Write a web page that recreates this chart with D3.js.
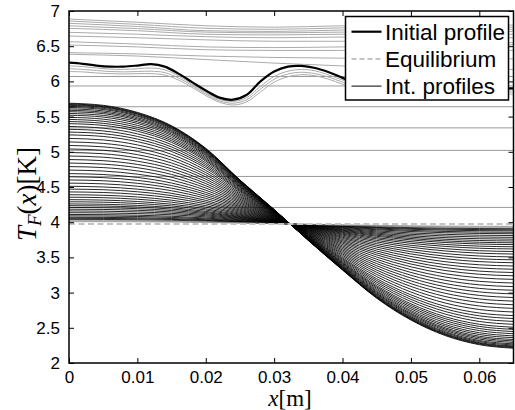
<!DOCTYPE html>
<html><head><meta charset="utf-8">
<script src="https://cdn.jsdelivr.net/npm/d3@7"></script>
<style>body{margin:0;background:#fff} svg{display:block}</style>
</head><body>
<svg id="c" width="515" height="410"></svg>
<script>
// ---------- data ----------
const xTicks = [0, 0.01, 0.02, 0.03, 0.04, 0.05, 0.06];
const xTickLabels = ["0", "0.01", "0.02", "0.03", "0.04", "0.05", "0.06"];
const yTicks = [2, 2.5, 3, 3.5, 4, 4.5, 5, 5.5, 6, 6.5, 7];
const yTickLabels = ["2", "2.5", "3", "3.5", "4", "4.5", "5", "5.5", "6", "6.5", "7"];
const equilibrium = 3.975;

const profileX = [0, 0.002, 0.004, 0.006, 0.008, 0.010, 0.012, 0.014, 0.016, 0.018, 0.020, 0.022, 0.024, 0.026, 0.028, 0.030, 0.032, 0.034, 0.036, 0.038, 0.040, 0.042, 0.045, 0.05, 0.055, 0.06, 0.065];
const initialProfile = [6.266, 6.25, 6.225, 6.21, 6.21, 6.225, 6.245, 6.21, 6.11, 5.99, 5.87, 5.77, 5.74, 5.81, 6.00, 6.14, 6.21, 6.22, 6.19, 6.13, 6.05, 5.98, 5.92, 5.90, 5.91, 5.90, 5.90];
const follower1 = [6.22, 6.21, 6.19, 6.175, 6.17, 6.18, 6.19, 6.165, 6.08, 5.96, 5.84, 5.745, 5.715, 5.77, 5.93, 6.07, 6.145, 6.17, 6.15, 6.09, 6.02, 5.96, 5.90, 5.87, 5.88, 5.88, 5.88];
const follower2 = [6.18, 6.17, 6.155, 6.14, 6.135, 6.14, 6.145, 6.125, 6.05, 5.94, 5.82, 5.725, 5.69, 5.74, 5.89, 6.03, 6.105, 6.13, 6.11, 6.06, 5.99, 5.93, 5.87, 5.84, 5.85, 5.85, 5.85];
const follower3 = [6.14, 6.135, 6.12, 6.11, 6.105, 6.11, 6.11, 6.09, 6.02, 5.915, 5.80, 5.705, 5.665, 5.71, 5.85, 5.99, 6.065, 6.095, 6.08, 6.03, 5.96, 5.90, 5.84, 5.81, 5.82, 5.82, 5.82];

const upperX = [0, 0.01, 0.02, 0.03, 0.04, 0.05, 0.065];
const upperProfiles = [
  [6.886, 6.84, 6.79, 6.77, 6.79, 6.80, 6.80],
  [6.858, 6.81, 6.755, 6.74, 6.76, 6.77, 6.77],
  [6.825, 6.78, 6.72, 6.71, 6.73, 6.74, 6.74],
  [6.79, 6.75, 6.70, 6.69, 6.70, 6.71, 6.71],
  [6.754, 6.72, 6.67, 6.66, 6.67, 6.67, 6.67],
  [6.697, 6.67, 6.635, 6.62, 6.63, 6.63, 6.62],
  [6.645, 6.62, 6.59, 6.57, 6.57, 6.56, 6.55],
  [6.564, 6.53, 6.49, 6.48, 6.49, 6.50, 6.52],
  [6.517, 6.49, 6.45, 6.44, 6.44, 6.44, 6.44],
  [6.408, 6.39, 6.36, 6.34, 6.33, 6.32, 6.32],
  [6.385, 6.36, 6.31, 6.26, 6.22, 6.18, 6.17]
];
const flatLevels = [6.07, 5.935, 5.64, 5.34, 5.02, 4.65, 4.21];

const fanX = [0, 0.005, 0.01, 0.015, 0.02, 0.025, 0.03, 0.035, 0.04, 0.045, 0.05, 0.055, 0.06, 0.065];
const fanEnvelope = [5.69, 5.66, 5.56, 5.37, 5.05, 4.60, 4.18, 3.74, 3.32, 2.92, 2.61, 2.39, 2.26, 2.21];
const fanStart = [5.69, 5.68, 5.67, 5.66, 5.645, 5.63, 5.61, 5.59, 5.57, 5.545, 5.52, 5.49, 5.46, 5.43, 5.40, 5.36, 5.32, 5.28, 5.24, 5.19, 5.14, 5.09, 5.04, 4.99, 4.94, 4.89, 4.84, 4.79, 4.74, 4.69, 4.645, 4.60, 4.555, 4.51, 4.47, 4.43, 4.39, 4.355, 4.32, 4.29, 4.26, 4.235, 4.21, 4.185, 4.16, 4.135, 4.11, 4.09, 4.07, 4.055, 4.04];
const fanTailStart = [4.028, 4.017, 4.007];

// ---------- layout ----------
const L = 69, R = 513.5, T = 11, B = 363;
const x = d3.scaleLinear().domain([0, 0.065]).range([L, R]);
const y = d3.scaleLinear().domain([2, 7]).range([B, T]);
const svg = d3.select("#c");

svg.append("clipPath").attr("id", "pc").append("rect")
  .attr("x", L).attr("y", T).attr("width", R - L).attr("height", B - T);
const g = svg.append("g").attr("clip-path", "url(#pc)");

const lineFrom = (xs, curve) => d3.line().x((d, i) => x(xs[i])).y(d => y(d)).curve(curve);

// upper grey profiles
const upLine = lineFrom(upperX, d3.curveMonotoneX);
g.selectAll(".up").data(upperProfiles).join("path")
  .attr("d", d => upLine(d)).attr("fill", "none").attr("stroke", "#aaa").attr("stroke-width", 1);

// flat profiles
g.selectAll(".flat").data(flatLevels).join("line")
  .attr("x1", L).attr("x2", R).attr("y1", d => y(d)).attr("y2", d => y(d))
  .attr("stroke", "#999").attr("stroke-width", 1);

// followers
const profLine = lineFrom(profileX, d3.curveCatmullRom.alpha(0.5));
g.selectAll(".fol").data([follower1, follower2, follower3]).join("path")
  .attr("d", d => profLine(d)).attr("fill", "none").attr("stroke", "#aaa").attr("stroke-width", 1);

// fan curves
const fanLine = lineFrom(fanX, d3.curveMonotoneX);
const e0 = fanEnvelope[0] - equilibrium;
const scaleCurve = s => fanEnvelope.map(v => equilibrium + (s - equilibrium) / e0 * (v - equilibrium));
g.selectAll(".fan").data(fanStart.map(scaleCurve)).join("path")
  .attr("d", d => fanLine(d)).attr("fill", "none").attr("stroke", "#000").attr("stroke-width", 0.85);
g.selectAll(".fantail").data(fanTailStart.map(scaleCurve)).join("path")
  .attr("d", d => fanLine(d)).attr("fill", "none").attr("stroke", "#777").attr("stroke-width", 0.6);

// equilibrium
g.append("line").attr("x1", L).attr("x2", R).attr("y1", y(equilibrium)).attr("y2", y(equilibrium))
  .attr("stroke", "#c4c4c4").attr("stroke-width", 2).attr("stroke-dasharray", "6,3.5");

// initial profile
g.append("path").attr("d", profLine(initialProfile)).attr("fill", "none")
  .attr("stroke", "#000").attr("stroke-width", 2.2);

// ---------- axes ----------
const font = "'Liberation Sans', Arial, sans-serif";
const ax = svg.append("g");
const xb = d3.axisBottom(x).tickValues(xTicks).tickFormat((d, i) => xTickLabels[i]).tickSizeInner(-5).tickSizeOuter(0).tickPadding(8);
const xt = d3.axisTop(x).tickValues(xTicks).tickFormat("").tickSizeInner(-5).tickSizeOuter(0);
const yl = d3.axisLeft(y).tickValues(yTicks).tickFormat((d, i) => yTickLabels[i]).tickSizeInner(-5).tickSizeOuter(0).tickPadding(9);
const yr = d3.axisRight(y).tickValues(yTicks).tickFormat("").tickSizeInner(-5).tickSizeOuter(0);
function styleAxis(sel) {
  sel.selectAll(".domain").remove();
  sel.selectAll(".tick line").attr("stroke", "#000").attr("stroke-width", 1);
  sel.selectAll("text").attr("fill", "#000").style("font-family", font).style("font-size", "17px");
}
ax.append("g").attr("transform", `translate(0,${B})`).call(xb).call(styleAxis);
ax.append("g").attr("transform", `translate(0,${T})`).call(xt).call(styleAxis);
ax.append("g").attr("transform", `translate(${L},0)`).call(yl).call(styleAxis);
ax.append("g").attr("transform", `translate(${R},0)`).call(yr).call(styleAxis);
ax.append("rect").attr("x", L).attr("y", T).attr("width", R - L).attr("height", B - T)
  .attr("fill", "none").attr("stroke", "#000").attr("stroke-width", 1.5);

// axis labels
const serif = "'Liberation Serif', 'Times New Roman', serif";
const xl = svg.append("text").attr("x", 290).attr("y", 406).attr("text-anchor", "middle")
  .style("font-family", serif).style("font-size", "23px");
xl.append("tspan").style("font-style", "italic").text("x");
xl.append("tspan").text("[m]");

const ylab = svg.append("text").attr("transform", `translate(36,${(T + B) / 2 + 7}) rotate(-90)`)
  .attr("text-anchor", "middle").style("font-family", serif).style("font-size", "27px");
ylab.append("tspan").style("font-style", "italic").text("T");
ylab.append("tspan").style("font-style", "italic").style("font-size", "19px").attr("dy", 5).text("F");
ylab.append("tspan").attr("dy", -5).text("(");
ylab.append("tspan").style("font-style", "italic").text("x");
ylab.append("tspan").text(")[K]");

// ---------- legend ----------
const lg = svg.append("g");
lg.append("rect").attr("x", 345.5).attr("y", 16.5).attr("width", 163).attr("height", 83.5)
  .attr("fill", "#fff").attr("stroke", "#000").attr("stroke-width", 1.5);
const legendItems = [
  {label: "Initial profile", stroke: "#000", w: 2.2, dash: null},
  {label: "Equilibrium", stroke: "#c4c4c4", w: 2, dash: "5,3"},
  {label: "Int. profiles", stroke: "#000", w: 1, dash: null}
];
legendItems.forEach((it, i) => {
  const cy = 31.7 + i * 27.2;
  lg.append("line").attr("x1", 351.5).attr("x2", 381.5).attr("y1", cy).attr("y2", cy)
    .attr("stroke", it.stroke).attr("stroke-width", it.w).attr("stroke-dasharray", it.dash);
  lg.append("text").attr("x", 385).attr("y", cy + 7.8).text(it.label)
    .style("font-family", font).style("font-size", "22.5px").attr("fill", "#000");
});
</script>
</body></html>
